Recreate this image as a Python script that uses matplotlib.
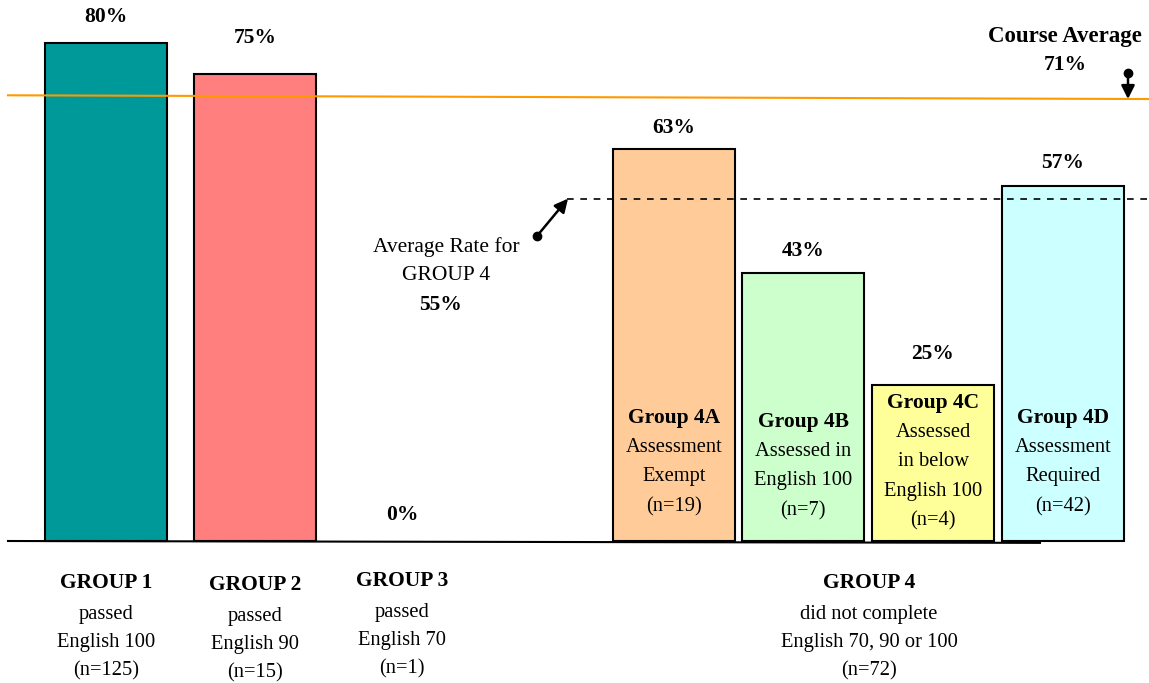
import matplotlib
matplotlib.use('Agg')
import matplotlib.pyplot as plt
import numpy as np

plt.rcParams['font.family'] = ['Liberation Serif', 'DejaVu Serif']

# 데이터
values = [80, 75, 0, 63, 43, 25, 57]
bar_labels = ['80%', '75%', '0%', '63%', '43%', '25%', '57%']
colors = ['#009999', '#FF7F7F', 'none', '#FFCC99', '#CCFFCC', '#FFFF99', '#CCFFFF']
course_avg = 71
group4_avg = 55

inner_titles = ['Group 4A', 'Group 4B', 'Group 4C', 'Group 4D']
inner_texts = [['Assessment', 'Exempt', '(n=19)'],
               ['Assessed in', 'English 100', '(n=7)'],
               ['Assessed', 'in below', 'English 100', '(n=4)'],
               ['Assessment', 'Required', '(n=42)']]

group_titles = ['GROUP 1', 'GROUP 2', 'GROUP 3', 'GROUP 4']
group_texts = [['passed', 'English 100', '(n=125)'],
               ['passed', 'English 90', '(n=15)'],
               ['passed', 'English 70', '(n=1)'],
               ['did not complete', 'English 70, 90 or 100', '(n=72)']]

# 배치 (픽셀 기준)
W, H = 1149, 683
x_pos = [106, 255, 402, 674, 803, 933, 1063]
bar_w = 122
y0 = 541
scale = 6.225
group_x = [106, 255, 402, 869]
label_y = [17, 38, 515, 128, 251, 354, 163]   # 퍼센트 라벨 높이
inner_top = [418, 422, 403, 418]
group_top = [583, 585, 581, 583]
line_h = 29.5

fig = plt.figure(figsize=(W / 100, H / 100), dpi=100)
ax = fig.add_axes([0, 0, 1, 1])
ax.set_xlim(0, W)
ax.set_ylim(-(H - y0) / scale, y0 / scale)
ax.axis('off')

def ypx(p):
    # 픽셀 y -> 데이터 값
    return (y0 - p) / scale

REG = 14.8
BOLD = 15.5

for i, (x, v, c) in enumerate(zip(x_pos, values, colors)):
    if v > 0:
        ax.bar(x, v, width=bar_w, color=c, edgecolor='black', linewidth=1.5, zorder=2)
    ax.text(x, ypx(label_y[i]), bar_labels[i], ha='center', va='center', fontsize=BOLD,
            fontweight='bold', zorder=4)

# 기준선
ax.plot([8, 1040], [0, -0.3], color='black', lw=1.5, zorder=3)

# 전체 평균선
ax.plot([8, W], [course_avg + 0.6, course_avg], color='#FF9900', lw=1.5, zorder=3)
ax.text(1065, ypx(37), 'Course Average', ha='center', va='center', fontsize=16.5, fontweight='bold')
ax.text(1065, ypx(65), f'{course_avg}%', ha='center', va='center', fontsize=BOLD, fontweight='bold')
ax.plot(1128, ypx(73), 'o', color='black', ms=6, zorder=5)
ax.annotate('', xy=(1128, course_avg), xytext=(1128, ypx(73)),
            arrowprops=dict(arrowstyle='-|>', color='black', lw=1.8, mutation_scale=20,
                            shrinkA=0, shrinkB=0), zorder=5)

# 그룹4 평균선
ax.plot([567, W], [group4_avg, group4_avg], color='black', lw=1.2, ls=(0, (4, 4)), zorder=3)
ax.plot(537, ypx(236), 'o', color='black', ms=6, zorder=5)
ax.annotate('', xy=(568, group4_avg), xytext=(537, ypx(236)),
            arrowprops=dict(arrowstyle='-|>', color='black', lw=1.8, mutation_scale=20,
                            shrinkA=0, shrinkB=0), zorder=5)
ax.text(446, ypx(247), 'Average Rate for', ha='center', va='center', fontsize=15.5)
ax.text(446, ypx(276), 'GROUP 4', ha='center', va='center', fontsize=15.5)
ax.text(441, ypx(305), f'{group4_avg}%', ha='center', va='center', fontsize=BOLD, fontweight='bold')

# 막대 안 텍스트
for j in range(4):
    x = x_pos[3 + j]
    ax.text(x, ypx(inner_top[j]), inner_titles[j], ha='center', va='center',
            fontsize=BOLD, fontweight='bold', zorder=4)
    for k, line in enumerate(inner_texts[j]):
        ax.text(x, ypx(inner_top[j] + line_h * (k + 1)), line, ha='center', va='center',
                fontsize=REG, zorder=4)

# 아래 그룹 라벨
for j in range(4):
    x = group_x[j]
    ax.text(x, ypx(group_top[j]), group_titles[j], ha='center', va='center',
            fontsize=BOLD, fontweight='bold')
    for k, line in enumerate(group_texts[j]):
        ax.text(x, ypx(group_top[j] + 31 + 28.5 * k), line, ha='center', va='center',
                fontsize=REG)

fig.savefig('out.png', dpi=100)
